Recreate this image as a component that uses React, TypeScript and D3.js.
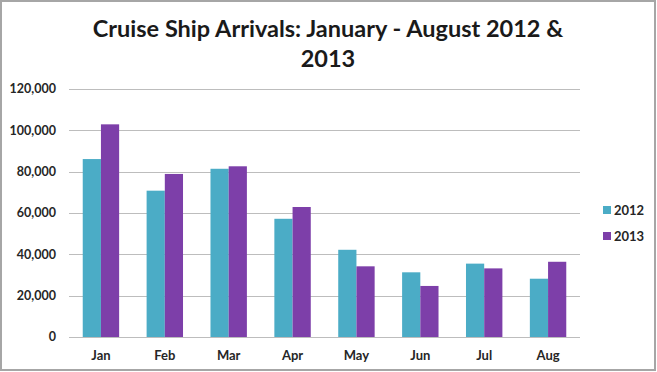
import React, { useEffect, useRef } from 'react';
import * as d3 from 'd3';

const months = ['Jan', 'Feb', 'Mar', 'Apr', 'May', 'Jun', 'Jul', 'Aug'];
const series = ['2012', '2013'];
const values2012 = [86100, 70800, 81400, 57200, 42200, 31300, 35500, 28200];
const values2013 = [102900, 78900, 82600, 62900, 34200, 24700, 33200, 36400];
const yTicks = [0, 20000, 40000, 60000, 80000, 100000, 120000];
const colors = ['#4bacc6', '#7d3fa9'];

const W = 657;
const H = 372;
const FONT = 'Lato, "Open Sans", sans-serif';

const App = () => {
    const ref = useRef<SVGSVGElement>(null);

    useEffect(() => {
        const svg = d3.select(ref.current);
        svg.selectAll('*').remove();

        const margin = { left: 69, right: 77, top: 89, bottom: 35 };
        const x = d3.scaleBand().domain(months).range([margin.left, W - margin.right]).paddingInner(0.43).paddingOuter(0.215);
        const x1 = d3.scaleBand().domain(series).range([0, x.bandwidth()]);
        const y = d3.scaleLinear().domain([0, 120000]).range([H - margin.bottom, margin.top]);

        svg.append('rect')
            .attr('x', 0).attr('y', 0).attr('width', W).attr('height', H)
            .attr('fill', '#fff');
        svg.append('rect')
            .attr('x', 1).attr('y', 1).attr('width', W - 3).attr('height', H - 3)
            .attr('fill', 'none').attr('stroke', '#a6a6a6').attr('stroke-width', 2);

        // title
        const title = svg.append('text')
            .attr('text-anchor', 'middle')
            .attr('font-family', FONT)
            .attr('font-weight', 'bold')
            .attr('font-size', 23.5)
            .attr('fill', '#1a1a1a');
        title.append('tspan').attr('x', 328).attr('y', 37).text('Cruise Ship Arrivals: January - August 2012 &');
        title.append('tspan').attr('x', 328).attr('y', 67).text('2013');

        // gridlines + y labels
        const grid = svg.append('g');
        grid.selectAll('line')
            .data(yTicks)
            .join('line')
            .attr('x1', margin.left).attr('x2', W - margin.right)
            .attr('y1', d => Math.round(y(d)) + 0.5).attr('y2', d => Math.round(y(d)) + 0.5)
            .attr('stroke', '#bdbdbd').attr('stroke-width', 1);

        svg.append('g').selectAll('text')
            .data(yTicks)
            .join('text')
            .attr('x', 56)
            .attr('y', d => y(d))
            .attr('dy', '0.35em')
            .attr('text-anchor', 'end')
            .attr('font-family', FONT)
            .attr('font-weight', 'bold')
            .attr('font-size', 12.5)
            .attr('fill', '#262626')
            .text(d => d3.format(',')(d));

        // bars
        const groups = svg.append('g').selectAll('g')
            .data(months)
            .join('g')
            .attr('transform', d => `translate(${x(d)},0)`);

        groups.selectAll('rect')
            .data((d, i) => [
                { key: '2012', value: values2012[i] },
                { key: '2013', value: values2013[i] },
            ])
            .join('rect')
            .attr('x', d => x1(d.key))
            .attr('width', x1.bandwidth())
            .attr('y', d => y(d.value))
            .attr('height', d => y(0) - y(d.value))
            .attr('fill', (d, i) => colors[i]);

        // x labels
        svg.append('g').selectAll('text')
            .data(months)
            .join('text')
            .attr('x', d => x(d) + x.bandwidth() / 2)
            .attr('y', 360)
            .attr('text-anchor', 'middle')
            .attr('font-family', FONT)
            .attr('font-weight', 'bold')
            .attr('font-size', 13)
            .attr('fill', '#262626')
            .text(d => d);

        // legend
        const legend = svg.append('g').selectAll('g')
            .data(series)
            .join('g')
            .attr('transform', (d, i) => `translate(603,${206 + i * 26})`);
        legend.append('rect')
            .attr('width', 8).attr('height', 8)
            .attr('fill', (d, i) => colors[i]);
        legend.append('text')
            .attr('x', 11).attr('y', 4).attr('dy', '0.35em')
            .attr('font-family', FONT)
            .attr('font-weight', 'bold')
            .attr('font-size', 13)
            .attr('fill', '#262626')
            .text(d => d);
    }, []);

    return (
        <div style={{ position: 'fixed', left: 0, top: 0 }}>
            <svg ref={ref} width={W} height={H} style={{ display: 'block' }} />
        </div>
    );
};

export default App;
